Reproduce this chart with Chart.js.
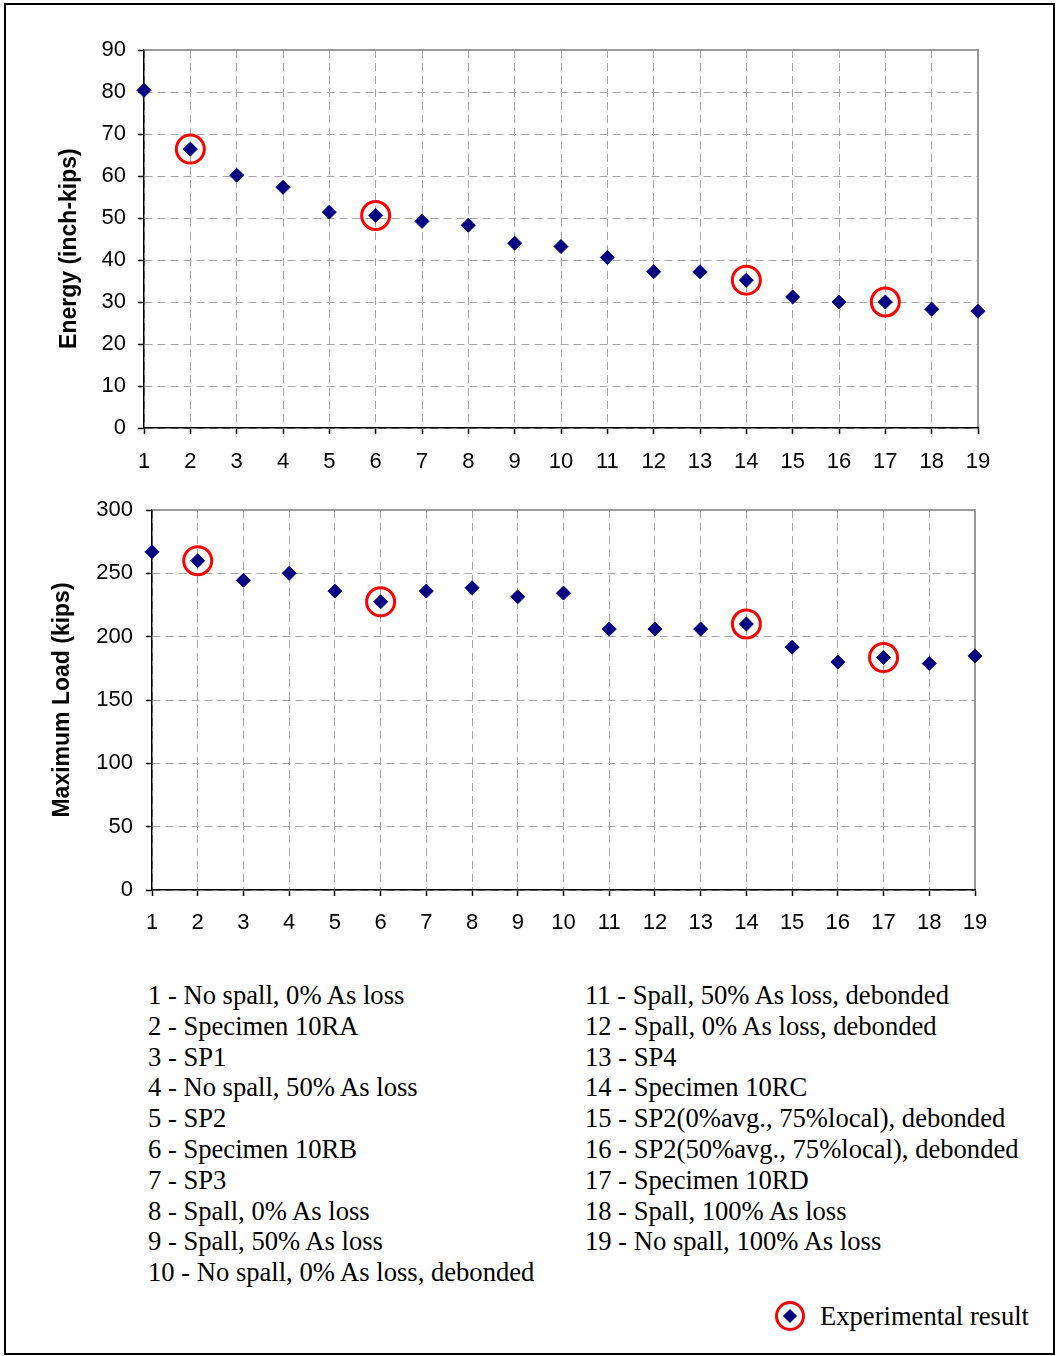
<!DOCTYPE html>
<html>
<head>
<meta charset="utf-8">
<script src="https://cdn.jsdelivr.net/npm/chart.js@4.4.0/dist/chart.umd.min.js"></script>
<style>
body{margin:0;background:#fff;width:1058px;height:1356px;position:relative;overflow:hidden;}
#frame{position:absolute;left:4px;top:3px;width:1051px;height:1352px;border:2px solid #000;box-sizing:border-box;}
.box{position:absolute;left:0;width:1058px;}
#box1{top:0;height:490px;}
#box2{top:480px;height:470px;}
.col{position:absolute;top:980px;font-family:"Liberation Serif","Times New Roman",serif;font-size:26.6px;line-height:30.8px;color:#000;white-space:nowrap;}
#col1{left:148px;}
#col2{left:585px;}
#key{position:absolute;left:775px;top:1297px;height:38px;font-family:"Liberation Serif","Times New Roman",serif;font-size:26.6px;line-height:38px;white-space:nowrap;}
#key .ring{position:absolute;left:0;top:4px;width:30px;height:30px;border:3px solid #f00;border-radius:50%;box-sizing:border-box;}
#key .dia{position:absolute;left:10px;top:14px;width:10px;height:10px;background:#000080;transform:rotate(45deg);}
#key span{position:absolute;left:45px;top:0;}
</style>
</head>
<body>
<div id="frame"></div>
<div class="box" id="box1"><canvas id="energyChart"></canvas></div>
<div class="box" id="box2"><canvas id="loadChart"></canvas></div>
<div class="col" id="col1"></div>
<div class="col" id="col2"></div>
<div id="key"><div class="ring"></div><div class="dia"></div><span>Experimental result</span></div>
<script>
// specimen numbers 1..19
let specimens=[1,2,3,4,5,6,7,8,9,10,11,12,13,14,15,16,17,18,19];
let energy=[80.4,66.4,60.2,57.3,51.4,50.6,49.2,48.3,44.0,43.2,40.6,37.2,37.2,35.2,31.2,30.0,30.0,28.3,27.8];
let maxLoad=[267,260,244.5,250,236,227.5,236,238.6,231.5,234.4,206,206,206,210,191.7,180,183.5,178.8,184.8];
// experimental results get a red circle
let circled=[2,6,14,17];
let descriptions=[
  "No spall, 0% As loss","Specimen 10RA","SP1","No spall, 50% As loss","SP2",
  "Specimen 10RB","SP3","Spall, 0% As loss","Spall, 50% As loss","No spall, 0% As loss, debonded",
  "Spall, 50% As loss, debonded","Spall, 0% As loss, debonded","SP4","Specimen 10RC",
  "SP2(0%avg., 75%local), debonded","SP2(50%avg., 75%local), debonded","Specimen 10RD",
  "Spall, 100% As loss","No spall, 100% As loss"
];

// legend text
let html1="",html2="";
descriptions.forEach((d,i)=>{
  let line=specimens[i]+" - "+d+"<br>";
  if(i<10) html1+=line; else html2+=line;
});
document.getElementById("col1").innerHTML=html1;
document.getElementById("col2").innerHTML=html2;

// solid grey top and right edge of the plot
const frameBorder={
  id:"frameBorder",
  beforeDatasetsDraw(chart){
    let a=chart.chartArea, c=chart.ctx;
    c.save();
    c.strokeStyle="#999";
    c.lineWidth=2;
    c.beginPath();
    c.moveTo(a.left+1,a.top);
    c.lineTo(a.right,a.top);
    c.lineTo(a.right,a.bottom-1);
    c.stroke();
    c.restore();
  }
};

const tickFont={family:"'Liberation Sans', Arial, sans-serif",size:22};

function makeChart(id,values,cfg){
  let pts=specimens.map((s,i)=>({x:s,y:values[i]}));
  let ring=pts.filter(p=>circled.includes(p.x));
  return new Chart(document.getElementById(id),{
    type:"scatter",
    data:{
      datasets:[
        {data:ring,pointStyle:"circle",pointRadius:14,borderWidth:3,borderColor:"#ff0000",backgroundColor:"rgba(0,0,0,0)",clip:false},
        {data:pts,pointStyle:"rectRot",pointRadius:7,borderWidth:1,borderColor:"#000080",backgroundColor:"#000080",clip:false}
      ]
    },
    options:{
      responsive:true,
      maintainAspectRatio:false,
      animation:false,
      events:[],
      layout:{padding:cfg.padding},
      plugins:{legend:{display:false},tooltip:{enabled:false}},
      scales:{
        x:{
          type:"linear",min:1,max:19,
          afterFit(s){s.height=50;},
          ticks:{stepSize:1,color:"#000",font:tickFont,padding:cfg.xPad,maxRotation:0},
          grid:{color:"#a6a6a6",lineWidth:1,tickLength:6,tickColor:"#000",tickWidth:1.5,tickBorderDash:[]},
          border:{color:"#000",width:1.5,dash:[8,5]}
        },
        y:{
          min:0,max:cfg.max,
          afterFit(s){s.width=cfg.yWidth;},
          ticks:{stepSize:cfg.step,color:"#000",font:tickFont,padding:cfg.yPad},
          grid:{color:"#a6a6a6",lineWidth:1,tickLength:6,tickColor:"#000",tickWidth:1.5,tickBorderDash:[]},
          border:{color:"#000",width:1.5,dash:[8,5]},
          title:{display:true,text:cfg.title,color:"#000",font:{family:"'Liberation Sans', Arial, sans-serif",size:23,weight:"bold"},padding:{top:cfg.titlePad,bottom:4}}
        }
      }
    },
    plugins:[frameBorder]
  });
}

makeChart("energyChart",energy,{
  padding:{left:50,top:50,right:80,bottom:12},
  yWidth:94,max:90,step:10,xPad:15,yPad:12,titlePad:6,
  // trailing spaces nudge the rotated title down a little
  title:"Energy (inch-kips)\u00a0\u00a0\u00a0"
});
makeChart("loadChart",maxLoad,{
  padding:{left:45,top:30,right:83,bottom:10},
  yWidth:107,max:300,step:50,xPad:14,yPad:13,titlePad:4,
  title:"Maximum Load (kips)"
});
</script>
</body>
</html>
